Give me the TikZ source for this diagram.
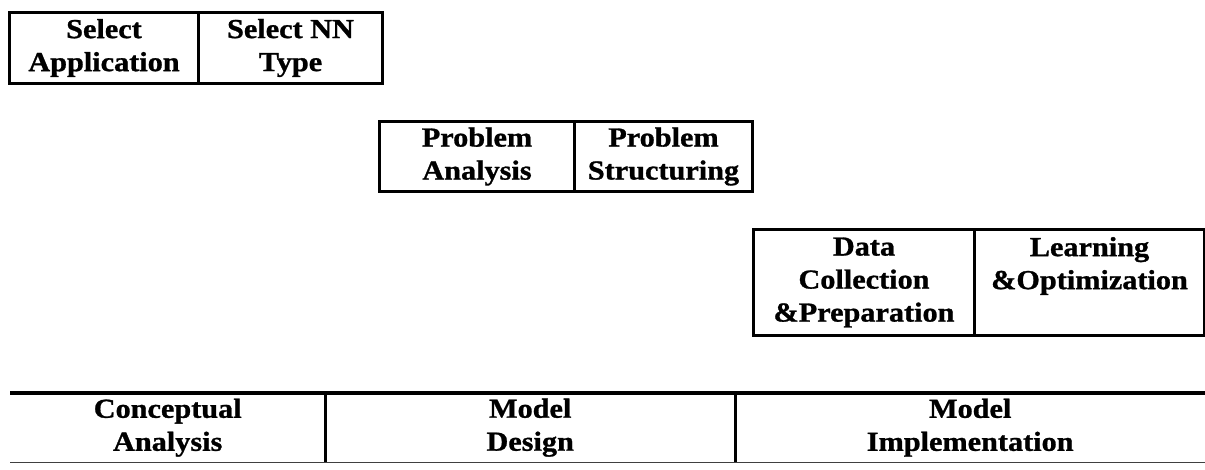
\documentclass[tikz,border=0pt]{standalone}
\usepackage{fontspec}
\setmainfont{Liberation Serif}[FakeStretch=1.1,BoldFeatures={FakeBold=1}]
\begin{document}
\begin{tikzpicture}[x=1pt,y=-1pt,
  txt/.style={font=\bfseries\fontsize{27.5}{33}\selectfont, align=center, inner sep=0pt},
  cell/.style={txt, draw, line width=3pt, anchor=north west},
  rule/.style={line width=4.5pt},
  thinrule/.style={line width=1pt, black!75},
  divider/.style={line width=2.4pt}
 ]
\useasboundingbox (0,0) rectangle (1205,469);

% stage 1 tasks
\node[cell, minimum width=189pt, minimum height=71pt] (selapp) at (8,11) {Select\\Application};
\node[cell, minimum width=184pt, minimum height=71pt] (selnn) at (197,11) {Select NN\\Type};

% stage 2 tasks
\node[cell, minimum width=195pt, minimum height=70pt] (panal) at (378,120) {Problem\\Analysis};
\node[cell, minimum width=178pt, minimum height=70pt] (pstruct) at (573,120) {Problem\\Structuring};

% stage 3 tasks
\node[cell, minimum width=221pt, minimum height=106pt] (datacol) at (752,228) {Data\\Collection\\\&Preparation};
\node[cell, minimum width=230pt, minimum height=106pt] (learn) at (973,228) {Learning\\\&Optimization\\\vphantom{\&Preparation}};

% phase table
\coordinate (rl) at (10,393);
\coordinate (rr) at (1205,393);
\node[txt, minimum width=315pt, minimum height=69pt, anchor=north west] (concept) at (10,393) {Conceptual\\Analysis};
\node[txt, minimum width=410pt, minimum height=69pt, anchor=north west] (design) at (325,393) {Model\\Design};
\node[txt, minimum width=470pt, minimum height=69pt, anchor=north west] (impl) at (735,393) {Model\\Implementation};

\draw[rule] (rl) -- (rr);
\draw[thinrule] (concept.south west) -- (impl.south east);
\draw[divider] (concept.north east) -- (concept.south east);
\draw[divider] (design.north east) -- (design.south east);
\end{tikzpicture}
\end{document}
